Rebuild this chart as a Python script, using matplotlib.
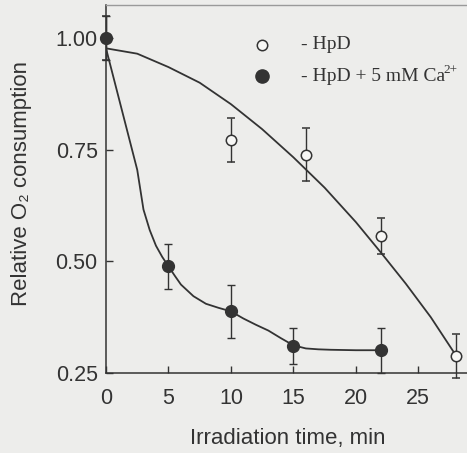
import matplotlib
matplotlib.use("Agg")
import matplotlib.pyplot as plt

# measured points (HpD, open) and (HpD + Ca, filled)
t_open = [0, 10, 16, 22, 28]
y_open = [1.00, 0.772, 0.739, 0.556, 0.288]
e_open = [0.05, 0.05, 0.06, 0.04, 0.05]

t_fill = [0, 5, 10, 15, 22]
y_fill = [1.00, 0.489, 0.388, 0.310, 0.301]
e_fill = [0.05, 0.05, 0.06, 0.04, 0.05]

# hand-drawn fit curves
curve_open_t = [0, 2.5, 5, 7.5, 10, 12.5, 15, 17.5, 20, 22, 24, 26, 28]
curve_open_y = [0.977, 0.965, 0.935, 0.900, 0.852, 0.796, 0.733, 0.665, 0.588, 0.520, 0.450, 0.375, 0.290]

curve_fill_t = [0, 2.5, 3.0, 3.5, 4.0, 4.5, 5.0, 5.5, 6.0, 7.0, 8.0, 9.0, 10, 11, 12, 13, 14, 15, 16, 17, 18, 20, 22]
curve_fill_y = [0.977, 0.705, 0.616, 0.570, 0.535, 0.510, 0.489, 0.468, 0.448, 0.422, 0.405, 0.396, 0.388,
                0.372, 0.358, 0.345, 0.328, 0.312, 0.305, 0.303, 0.302, 0.301, 0.301]

xticks = [0, 5, 10, 15, 20, 25]
yticks = [0.25, 0.50, 0.75, 1.00]

bg = "#ededeb"
ink = "#333333"

plt.rcParams["font.family"] = ["Liberation Sans", "DejaVu Sans"]

fig = plt.figure(figsize=(4.67, 4.53), dpi=100, facecolor=bg)
ax = fig.add_axes([106/467, 1 - 373/453, 361/467, 368/453], facecolor=bg)

ax.plot(curve_open_t, curve_open_y, color=ink, lw=1.3)
ax.plot(curve_fill_t, curve_fill_y, color=ink, lw=1.3)

ax.errorbar(t_open, y_open, yerr=e_open, fmt="o", ms=7.5, mfc="#f7f7f5", mec=ink, mew=1.1,
            ecolor=ink, elinewidth=1.0, capsize=3, capthick=1.0, clip_on=False, zorder=3)
ax.errorbar(t_fill, y_fill, yerr=e_fill, fmt="o", ms=8.5, mfc=ink, mec=ink,
            ecolor=ink, elinewidth=1.0, capsize=3, capthick=1.0, clip_on=False, zorder=4)

# legend drawn by hand
serif = ["Liberation Serif", "DejaVu Serif"]
ax.plot([12.5], [0.985], "o", ms=7.5, mfc="#f7f7f5", mec=ink, mew=1.1, clip_on=False)
ax.plot([12.5], [0.915], "o", ms=9.5, mfc=ink, mec=ink, clip_on=False)
ax.text(15.6, 0.985, "- HpD", fontsize=14, family=serif, color=ink, va="center")
ax.text(15.6, 0.915, "- HpD + 5 mM Ca", fontsize=14, family=serif, color=ink, va="center")
ax.text(27.0, 0.928, "2+", fontsize=9.5, family=serif, color=ink, va="center")

ax.set_xlim(0, 28.9)
ax.set_ylim(0.25, 1.074)
ax.set_xticks(xticks)
ax.set_yticks(yticks)
ax.set_yticklabels(["0.25", "0.50", "0.75", "1.00"])
ax.tick_params(direction="in", length=5, width=1.0, color=ink, labelsize=15.5, labelcolor=ink)
ax.tick_params(axis="x", pad=11)
ax.tick_params(axis="y", pad=6)

for s in ["left", "bottom"]:
    ax.spines[s].set_color(ink)
    ax.spines[s].set_linewidth(1.1)
ax.spines["top"].set_color("#9a9a9a")
ax.spines["top"].set_linewidth(1.0)
ax.spines["right"].set_visible(False)

ax.set_xlabel("Irradiation time, min", fontsize=16, color=ink)
ax.xaxis.set_label_coords(0.504, -0.149)
ax.set_ylabel("Relative O₂ consumption", fontsize=16, color=ink)
ax.yaxis.set_label_coords(-0.205, 0.516)

fig.savefig("out.png", dpi=100, facecolor=bg)
